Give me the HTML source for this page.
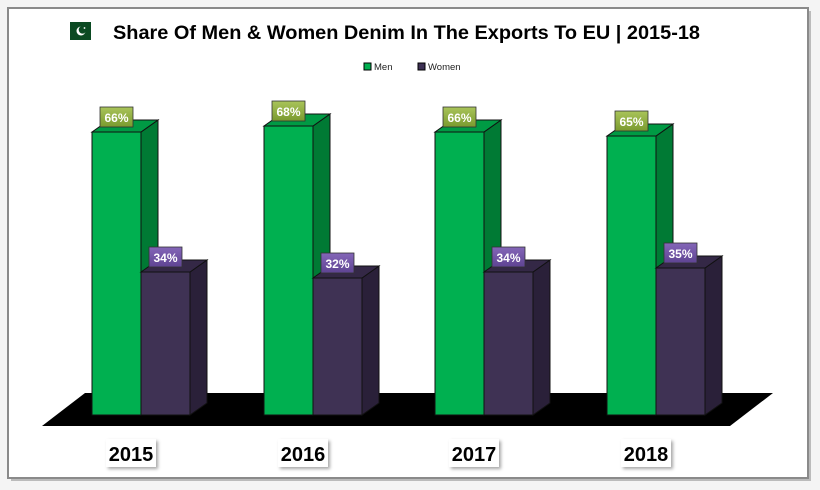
<!DOCTYPE html>
<html><head><meta charset="utf-8"><style>
body{margin:0;width:820px;height:490px;background:#fff;overflow:hidden}
svg{display:block}
text{font-family:"Liberation Sans","DejaVu Sans",sans-serif}
</style></head><body>
<svg width="820" height="490" viewBox="0 0 820 490" xmlns="http://www.w3.org/2000/svg">
<defs>
<linearGradient id="gl" x1="0" y1="0" x2="0" y2="1"><stop offset="0" stop-color="#a9c45a"/><stop offset="1" stop-color="#7a9a2e"/></linearGradient>
<linearGradient id="pl" x1="0" y1="0" x2="0" y2="1"><stop offset="0" stop-color="#8466b8"/><stop offset="1" stop-color="#5e4392"/></linearGradient>
<filter id="sh" x="-20%" y="-20%" width="150%" height="150%"><feDropShadow dx="2" dy="2" stdDeviation="1.5" flood-color="#000" flood-opacity="0.35"/></filter>
</defs>
<rect x="0" y="0" width="820" height="490" fill="#f4f4f4"/>
<rect x="11" y="11" width="800" height="470" fill="#bbb"/>
<rect x="8" y="8" width="800" height="470" fill="#fff" stroke="#8a8a8a" stroke-width="2"/>
<!-- title -->
<rect x="70" y="22" width="21" height="18" fill="#0b4a22"/>
<circle cx="81" cy="31" r="4.5" fill="#fff"/>
<circle cx="82.5" cy="29.8" r="3.8" fill="#0b4a22"/>
<circle cx="84.5" cy="28" r="0.9" fill="#fff"/>
<text x="113" y="39" font-size="19.5" font-weight="bold" fill="#000" textLength="587" lengthAdjust="spacingAndGlyphs">Share Of Men &amp; Women Denim In The Exports To EU | 2015-18</text>
<!-- legend -->
<rect x="364" y="63" width="7" height="7" fill="#00b050" stroke="#000" stroke-width="1"/>
<text x="374" y="70" font-size="9.5" fill="#222">Men</text>
<rect x="418" y="63" width="7" height="7" fill="#3d3054" stroke="#000" stroke-width="1"/>
<text x="428" y="70" font-size="9.5" fill="#222">Women</text>
<!-- floor -->
<polygon points="85,393 773,393 730,426 42,426" fill="#000"/>
<g stroke="#111" stroke-width="1">
<rect x="92" y="132" width="49" height="283" fill="#00b050"/>
<polygon points="141,132 158,120 158,403 141,415" fill="#007a34"/>
<polygon points="92,132 109,120 158,120 141,132" fill="#009a44"/>
<rect x="141" y="272" width="49" height="143" fill="#3f3254"/>
<polygon points="190,272 207,260 207,403 190,415" fill="#2a2039"/>
<polygon points="141,272 158,260 207,260 190,272" fill="#342846"/>
<rect x="264" y="126" width="49" height="289" fill="#00b050"/>
<polygon points="313,126 330,114 330,403 313,415" fill="#007a34"/>
<polygon points="264,126 281,114 330,114 313,126" fill="#009a44"/>
<rect x="313" y="278" width="49" height="137" fill="#3f3254"/>
<polygon points="362,278 379,266 379,403 362,415" fill="#2a2039"/>
<polygon points="313,278 330,266 379,266 362,278" fill="#342846"/>
<rect x="435" y="132" width="49" height="283" fill="#00b050"/>
<polygon points="484,132 501,120 501,403 484,415" fill="#007a34"/>
<polygon points="435,132 452,120 501,120 484,132" fill="#009a44"/>
<rect x="484" y="272" width="49" height="143" fill="#3f3254"/>
<polygon points="533,272 550,260 550,403 533,415" fill="#2a2039"/>
<polygon points="484,272 501,260 550,260 533,272" fill="#342846"/>
<rect x="607" y="136" width="49" height="279" fill="#00b050"/>
<polygon points="656,136 673,124 673,403 656,415" fill="#007a34"/>
<polygon points="607,136 624,124 673,124 656,136" fill="#009a44"/>
<rect x="656" y="268" width="49" height="147" fill="#3f3254"/>
<polygon points="705,268 722,256 722,403 705,415" fill="#2a2039"/>
<polygon points="656,268 673,256 722,256 705,268" fill="#342846"/>
</g>
<g stroke="#333" stroke-width="0.8">
<rect x="100" y="107" width="33" height="20" fill="url(#gl)"/>
<rect x="149" y="247" width="33" height="20" fill="url(#pl)"/>
<rect x="272" y="101" width="33" height="20" fill="url(#gl)"/>
<rect x="321" y="253" width="33" height="20" fill="url(#pl)"/>
<rect x="443" y="107" width="33" height="20" fill="url(#gl)"/>
<rect x="492" y="247" width="33" height="20" fill="url(#pl)"/>
<rect x="615" y="111" width="33" height="20" fill="url(#gl)"/>
<rect x="664" y="243" width="33" height="20" fill="url(#pl)"/>
</g>
<g font-size="12" font-weight="bold" fill="#fff" text-anchor="middle">
<text x="116.5" y="122">66%</text><text x="165.5" y="262">34%</text>
<text x="288.5" y="116">68%</text><text x="337.5" y="268">32%</text>
<text x="459.5" y="122">66%</text><text x="508.5" y="262">34%</text>
<text x="631.5" y="126">65%</text><text x="680.5" y="258">35%</text>
</g>
<g filter="url(#sh)" fill="#fff">
<rect x="106" y="439" width="50" height="28"/>
<rect x="278" y="439" width="50" height="28"/>
<rect x="449" y="439" width="50" height="28"/>
<rect x="621" y="439" width="50" height="28"/>
</g>
<g font-size="20" font-weight="bold" fill="#000" text-anchor="middle">
<text x="131" y="461">2015</text>
<text x="303" y="461">2016</text>
<text x="474" y="461">2017</text>
<text x="646" y="461">2018</text>
</g>
</svg>
</body></html>
